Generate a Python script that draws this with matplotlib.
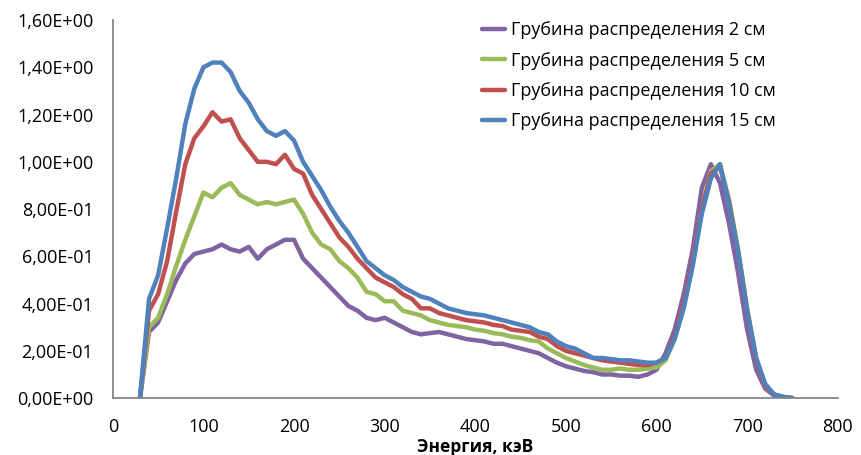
import numpy as np
import matplotlib
matplotlib.use("Agg")
import matplotlib.pyplot as plt
from matplotlib.ticker import FuncFormatter, MultipleLocator

# energy channels, keV
energy = np.arange(30, 751, 10)

depth_2 = [0, 0.28, 0.32, 0.41, 0.50, 0.57, 0.61, 0.62, 0.63, 0.65,
           0.63, 0.62, 0.64, 0.59, 0.63, 0.65, 0.67, 0.67, 0.59, 0.55,
           0.51, 0.47, 0.43, 0.39, 0.37, 0.34, 0.33, 0.34, 0.32, 0.30,
           0.28, 0.27, 0.275, 0.28, 0.27, 0.26, 0.25, 0.245, 0.24, 0.23,
           0.23, 0.22, 0.21, 0.20, 0.19, 0.17, 0.15, 0.135, 0.125, 0.115,
           0.11, 0.10, 0.10, 0.095, 0.095, 0.09, 0.10, 0.12, 0.19, 0.29,
           0.44, 0.63, 0.89, 0.99, 0.91, 0.74, 0.53, 0.29, 0.12, 0.04,
           0.01, 0.0, 0.0]

depth_5 = [0, 0.30, 0.34, 0.44, 0.56, 0.67, 0.77, 0.87, 0.85, 0.89,
           0.91, 0.86, 0.84, 0.82, 0.83, 0.82, 0.83, 0.84, 0.78, 0.70,
           0.65, 0.63, 0.58, 0.55, 0.51, 0.45, 0.44, 0.41, 0.41, 0.37,
           0.36, 0.35, 0.33, 0.32, 0.31, 0.305, 0.30, 0.29, 0.285, 0.275,
           0.27, 0.26, 0.255, 0.245, 0.24, 0.21, 0.19, 0.17, 0.155, 0.14,
           0.13, 0.12, 0.12, 0.125, 0.12, 0.12, 0.125, 0.13, 0.16, 0.25,
           0.39, 0.57, 0.80, 0.96, 0.99, 0.84, 0.63, 0.38, 0.17, 0.05,
           0.015, 0.005, 0.0]

depth_10 = [0, 0.37, 0.44, 0.58, 0.79, 0.99, 1.10, 1.15, 1.21, 1.17,
            1.18, 1.10, 1.05, 1.00, 1.00, 0.99, 1.03, 0.97, 0.95, 0.86,
            0.80, 0.74, 0.68, 0.64, 0.59, 0.55, 0.51, 0.49, 0.47, 0.44,
            0.42, 0.38, 0.38, 0.36, 0.35, 0.34, 0.33, 0.325, 0.32, 0.31,
            0.305, 0.29, 0.285, 0.28, 0.26, 0.25, 0.22, 0.20, 0.19, 0.18,
            0.17, 0.16, 0.155, 0.15, 0.145, 0.14, 0.14, 0.15, 0.17, 0.26,
            0.40, 0.58, 0.80, 0.95, 0.98, 0.83, 0.62, 0.37, 0.16, 0.05,
            0.015, 0.005, 0.0]

depth_15 = [0, 0.42, 0.52, 0.72, 0.93, 1.16, 1.31, 1.40, 1.42, 1.42,
            1.38, 1.30, 1.25, 1.18, 1.13, 1.11, 1.13, 1.09, 1.00, 0.94,
            0.88, 0.81, 0.75, 0.70, 0.64, 0.58, 0.55, 0.52, 0.50, 0.47,
            0.45, 0.43, 0.42, 0.40, 0.38, 0.37, 0.36, 0.355, 0.35, 0.34,
            0.33, 0.32, 0.31, 0.30, 0.28, 0.27, 0.24, 0.22, 0.21, 0.19,
            0.17, 0.17, 0.165, 0.16, 0.16, 0.155, 0.15, 0.15, 0.17, 0.25,
            0.38, 0.56, 0.78, 0.93, 0.99, 0.82, 0.62, 0.37, 0.17, 0.06,
            0.015, 0.005, 0.0]

labels = ["Грубина распределения 2 см", "Грубина распределения 5 см",
          "Грубина распределения 10 см", "Грубина распределения 15 см"]
colors = ["#8064A2", "#9BBB59", "#C0504D", "#4F81BD"]

plt.rcParams['font.family'] = ['Open Sans', 'DejaVu Sans']

fig = plt.figure(figsize=(8.61, 4.55), dpi=100)
ax = fig.add_axes([0.131, 0.125, 0.842, 0.831])

for series, lab, col in zip([depth_2, depth_5, depth_10, depth_15], labels, colors):
    ax.plot(energy, series, color=col, linewidth=3.2, label=lab,
            solid_joinstyle='round', solid_capstyle='round')

ax.set_xlim(0, 800)
ax.set_ylim(0, 1.6)
ax.xaxis.set_major_locator(MultipleLocator(100))
ax.yaxis.set_major_locator(MultipleLocator(0.2))
ax.yaxis.set_major_formatter(FuncFormatter(lambda v, p: f"{v:.2E}".replace('.', ',')))
ax.tick_params(length=0, labelsize=13)
ax.tick_params(axis='y', pad=14)
ax.tick_params(axis='x', pad=14)

for side in ['top', 'right']:
    ax.spines[side].set_visible(False)
for side in ['left', 'bottom']:
    ax.spines[side].set_color('#868686')
    ax.spines[side].set_linewidth(1.3)

ax.set_xlabel("Энергия, кэВ", fontsize=12.5, fontweight='bold', labelpad=2)

ax.legend(loc='upper left', bbox_to_anchor=(482 / 861, 0.953),
          bbox_transform=fig.transFigure, frameon=False, borderpad=0,
          borderaxespad=0, fontsize=13, handlelength=1.3,
          handletextpad=0.28, labelspacing=0.68)

fig.savefig("out.png", dpi=100)
